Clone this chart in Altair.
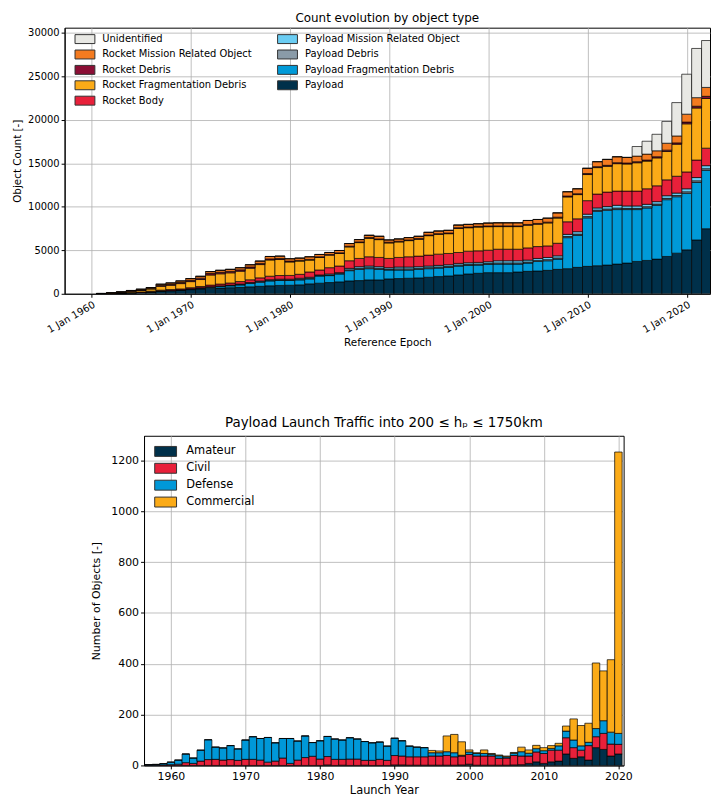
import altair as alt
import pandas as pd

FONT = "DejaVu Sans"

# ---------------- Top chart: count evolution by object type ----------------
YEARS_TOP = list(range(1961, 2023))

PAYLOAD = [20, 40, 80, 120, 160, 220, 300, 340, 400, 480, 560, 620, 660, 700, 740, 800, 860, 920, 960, 980,
           1026, 1140, 1216, 1292, 1368, 1482, 1520, 1596, 1596, 1710, 1748, 1786, 1824, 1900, 1976, 2052, 2166, 2280, 2356, 2432,
           2430, 2430, 2506, 2582, 2620, 2696, 2810, 2886, 3038, 3152, 3227, 3303, 3417, 3531, 3721, 3835, 3987, 4291, 4670, 5050, 6189, 7480]
PAYLOAD_FRAG = [0, 0, 0, 0, 0, 20, 40, 50, 60, 80, 100, 140, 180, 220, 280, 380, 480, 560, 580, 560,
                570, 570, 836, 798, 912, 1178, 1292, 1292, 1216, 1026, 988, 950, 988, 988, 988, 988, 1026, 988, 950, 950,
                987, 987, 911, 949, 1101, 1101, 1177, 3569, 3683, 5582, 6265, 6303, 6265, 6151, 5961, 6037, 6189, 6531, 6493, 6493, 6607, 6721]
PAYLOAD_DEBRIS = [0, 0, 0, 0, 0, 0, 0, 0, 0, 20, 20, 30, 30, 30, 40, 40, 50, 50, 50, 50,
                  70, 70, 40, 70, 60, 100, 120, 120, 120, 100, 130, 130, 120, 120, 120, 120, 120, 120, 120, 120,
                  130, 130, 130, 120, 120, 130, 130, 130, 140, 140, 130, 140, 170, 140, 140, 140, 140, 150, 140, 180, 190, 180]
PAYLOAD_MRO = [0, 0, 0, 0, 0, 0, 0, 0, 0, 0, 20, 30, 40, 50, 60, 70, 80, 90, 90, 90,
               120, 120, 74, 120, 92, 166, 184, 184, 184, 166, 212, 212, 184, 184, 184, 184, 184, 184, 184, 184,
               250, 250, 250, 222, 222, 250, 250, 250, 278, 278, 250, 278, 324, 278, 278, 278, 278, 306, 278, 352, 380, 352]
ROCKET_BODY = [10, 20, 30, 40, 50, 60, 80, 90, 100, 120, 140, 180, 210, 240, 280, 320, 360, 400, 420, 430,
               456, 608, 570, 722, 760, 874, 950, 1064, 1064, 1064, 1102, 1178, 1216, 1254, 1292, 1292, 1254, 1330, 1330, 1330,
               1329, 1329, 1329, 1405, 1367, 1329, 1443, 1443, 1481, 1557, 1595, 1671, 1633, 1709, 1709, 1785, 1823, 1823, 1936, 1936, 2012, 2012]
ROCKET_FRAG = [0, 0, 40, 110, 180, 250, 440, 500, 610, 700, 800, 1160, 1180, 1170, 1200, 1330, 1530, 1870, 1840, 1550,
               1516, 1364, 1440, 1440, 1440, 1592, 1820, 2124, 2048, 1782, 1782, 1858, 1934, 2238, 2276, 2276, 2770, 2694, 2732, 2700,
               2600, 2600, 2600, 2606, 2568, 2644, 2900, 2862, 2786, 3004, 3042, 2966, 3155, 3117, 3259, 3183, 3211, 3267, 3685, 5533, 5989, 5711]
ROCKET_DEBRIS = [0, 10, 20, 30, 40, 60, 100, 110, 130, 150, 160, 170, 170, 160, 150, 140, 130, 120, 110, 100,
                 80, 80, 80, 80, 80, 80, 80, 80, 80, 80, 80, 80, 80, 80, 80, 80, 80, 80, 80, 80,
                 80, 80, 80, 90, 90, 90, 100, 100, 100, 110, 110, 110, 110, 110, 120, 120, 130, 150, 150, 200, 200, 250]
ROCKET_MRO = [10, 40, 60, 80, 100, 110, 140, 160, 180, 200, 210, 220, 230, 240, 250, 260, 270, 280, 280, 270,
              266, 304, 266, 228, 266, 304, 266, 266, 304, 266, 266, 266, 266, 304, 304, 304, 304, 304, 304, 336,
              356, 356, 356, 456, 456, 456, 494, 494, 570, 608, 570, 683, 683, 645, 645, 683, 683, 797, 797, 911, 987, 1025]
UNIDENTIFIED = [0] * 54 + [1101, 1481, 1899, 2506, 3835, 4594, 5658, 5392]

TOP_SERIES = [
    ("Payload", PAYLOAD, "#00304a"),
    ("Payload Fragmentation Debris", PAYLOAD_FRAG, "#009ad8"),
    ("Payload Debris", PAYLOAD_DEBRIS, "#8a9ba8"),
    ("Payload Mission Related Object", PAYLOAD_MRO, "#6bcdf3"),
    ("Rocket Body", ROCKET_BODY, "#e8203a"),
    ("Rocket Fragmentation Debris", ROCKET_FRAG, "#fbab18"),
    ("Rocket Debris", ROCKET_DEBRIS, "#8b0e35"),
    ("Rocket Mission Related Object", ROCKET_MRO, "#f47b20"),
    ("Unidentified", UNIDENTIFIED, "#e8e8e4"),
]
# legend order (filled column by column, two columns)
TOP_LEGEND = ["Unidentified", "Rocket Mission Related Object", "Rocket Debris",
              "Rocket Fragmentation Debris", "Rocket Body",
              "Payload Mission Related Object", "Payload Debris",
              "Payload Fragmentation Debris", "Payload"]
top_colors = {n: c for n, _, c in TOP_SERIES}

rows = []
for i, (name, vals, _) in enumerate(TOP_SERIES):
    for y, v in zip(YEARS_TOP, vals):
        rows.append({"year": y, "cat": name, "value": v, "ord": i})
top_df = pd.DataFrame(rows)

TOP_XTICKS = [1960, 1970, 1980, 1990, 2000, 2010, 2020]
TOP_YTICKS = [0, 5000, 10000, 15000, 20000, 25000, 30000]

SWATCH_TOP = "M-2,-0.9H2V0.9H-2Z"
SWATCH_BOT = "M-2.2,-1H2.2V1H-2.2Z"

top = alt.Chart(top_df).transform_calculate(
    xl="datum.year - 0.5", xr="datum.year + 0.5"
).transform_stack(
    stack="value", groupby=["year"], as_=["y0", "y1"],
    sort=[alt.SortField(field="ord", order="ascending")]
).mark_bar(stroke="black", strokeWidth=0.9, strokeOpacity=0.75, clip=True).encode(
    x=alt.X("xl:Q", scale=alt.Scale(domain=[1957.3, 2022.35], nice=False, zero=False),
            axis=alt.Axis(values=TOP_XTICKS, labelExpr="'1 Jan ' + datum.value", labelAngle=-30,
                          labelAlign="right", labelBaseline="top", labelFontSize=10,
                          title="Reference Epoch", titleFontSize=10.5, titlePadding=3)),
    x2="xr:Q",
    y=alt.Y("y1:Q", scale=alt.Scale(domain=[0, 30600], nice=False),
            axis=alt.Axis(values=TOP_YTICKS, format="d", labelFontSize=10,
                          title="Object Count [-]", titleFontSize=10.5, titlePadding=5)),
    y2="y0:Q",
    color=alt.Color("cat:N",
                    scale=alt.Scale(domain=TOP_LEGEND, range=[top_colors[n] for n in TOP_LEGEND]),
                    legend=alt.Legend(title=None, orient="none", legendX=15, legendY=6, columns=2,
                                      symbolType=SWATCH_TOP, symbolSize=100,
                                      symbolStrokeColor="#333333", symbolStrokeWidth=1, symbolOpacity=1,
                                      labelFontSize=10, labelOffset=12, rowPadding=2.5, columnPadding=23,
                                      labelLimit=400, padding=0)),
).properties(
    width=650, height=268,
    title=alt.TitleParams("Count evolution by object type", fontSize=12, offset=1, dy=-2),
    view=alt.ViewBackground(stroke="black", strokeWidth=1),
)

# ---------------- Bottom chart: payload launch traffic ----------------
YEARS_BOT = list(range(1957, 2021))
AMATEUR = [0, 0, 0, 0, 0, 0, 0, 0, 0, 0, 0, 0, 0, 0, 0, 0, 0, 0, 0, 0, 0, 0, 0, 0,
           2, 0, 1, 0, 0, 1, 0, 0, 0, 2, 2, 1, 1, 1, 1, 1, 1, 1, 2, 5,
           1, 1, 1, 1, 1, 2, 3, 8, 14, 8, 14, 17, 45, 28, 34, 21, 70, 63, 37, 45]
CIVIL = [1, 1, 2, 3, 5, 11, 8, 17, 23, 24, 21, 23, 20, 24, 24, 21, 13, 17, 29, 8, 21, 31, 36, 25,
         33, 24, 23, 25, 25, 19, 20, 24, 20, 37, 35, 33, 33, 33, 36, 36, 38, 33, 35, 38,
         36, 36, 36, 27, 28, 37, 34, 29, 39, 39, 46, 43, 64, 42, 26, 57, 43, 63, 47, 38]
DEFENSE = [2, 3, 5, 10, 16, 34, 21, 43, 78, 48, 48, 55, 45, 76, 89, 85, 97, 72, 77, 98, 75, 85, 54, 72,
           79, 80, 76, 84, 79, 74, 69, 68, 56, 68, 60, 42, 38, 36, 13, 13, 15, 16, 3, 10,
           10, 10, 7, 10, 5, 9, 17, 11, 13, 11, 7, 17, 26, 30, 17, 13, 32, 50, 47, 43]
COMMERCIAL = [0] * 38 + [9, 7, 62, 72, 53, 8,
                         3, 14, 3, 3, 3, 3, 18, 13, 13, 12, 11, 10, 20, 83, 80, 75, 258, 196, 285, 1107]

BOT_SERIES = [
    ("Amateur", AMATEUR, "#00304a"),
    ("Civil", CIVIL, "#e8203a"),
    ("Defense", DEFENSE, "#0098d8"),
    ("Commercial", COMMERCIAL, "#fbab18"),
]
rows = []
for i, (name, vals, _) in enumerate(BOT_SERIES):
    for y, v in zip(YEARS_BOT, vals):
        rows.append({"year": y, "cat": name, "value": v, "ord": i})
bot_df = pd.DataFrame(rows)

bottom = alt.Chart(bot_df).transform_calculate(
    xl="datum.year - 0.5", xr="datum.year + 0.5"
).transform_stack(
    stack="value", groupby=["year"], as_=["y0", "y1"],
    sort=[alt.SortField(field="ord", order="ascending")]
).mark_bar(stroke="black", strokeWidth=1, strokeOpacity=0.7, clip=True).encode(
    x=alt.X("xl:Q", scale=alt.Scale(domain=[1956.4, 2020.7], nice=False, zero=False),
            axis=alt.Axis(values=[1960, 1970, 1980, 1990, 2000, 2010, 2020], format="d",
                          labelFontSize=11, title="Launch Year", titleFontSize=11.5, titlePadding=3)),
    x2="xr:Q",
    y=alt.Y("y1:Q", scale=alt.Scale(domain=[0, 1297], nice=False),
            axis=alt.Axis(values=[0, 200, 400, 600, 800, 1000, 1200], format="d", labelFontSize=11,
                          title="Number of Objects [-]", titleFontSize=11, titlePadding=9)),
    y2="y0:Q",
    color=alt.Color("cat:N",
                    scale=alt.Scale(domain=[n for n, _, _ in BOT_SERIES], range=[c for _, _, c in BOT_SERIES]),
                    legend=alt.Legend(title=None, orient="none", legendX=96, legendY=10,
                                      symbolType=SWATCH_BOT, symbolSize=100,
                                      symbolStrokeColor="#333333", symbolStrokeWidth=1, symbolOpacity=1,
                                      labelFontSize=11.5, labelOffset=15, rowPadding=2, padding=0)),
).properties(
    width=483, height=332,
    title=alt.TitleParams("Payload Launch Traffic into 200 \u2264 h\u209a \u2264 1750km", fontSize=13.5, offset=6),
    view=alt.ViewBackground(stroke="black", strokeWidth=1),
)

spacer = alt.Chart(pd.DataFrame({"a": [0]})).mark_point(opacity=0).encode(
    x=alt.X("a:Q", axis=None), y=alt.Y("a:Q", axis=None)
).properties(width=21, height=20, view=alt.ViewBackground(stroke="transparent"))

chart = alt.vconcat(
    top,
    alt.hconcat(spacer, bottom, spacing=4),
    spacing=68,
).resolve_scale(
    color="independent"
).resolve_legend(
    color="independent"
).properties(
    padding={"left": 4, "right": 0, "top": 0, "bottom": 0}
).configure(
    font=FONT
).configure_axis(
    labelFont=FONT, titleFont=FONT, labelColor="black", titleColor="black",
    titleFontWeight="normal", tickColor="black", domainColor="black", tickSize=3.5,
    labelPadding=2, gridColor="#b0b0b0", gridWidth=0.8, domainWidth=1,
).configure_title(
    font=FONT, fontWeight="normal", color="black", anchor="middle"
).configure_legend(
    labelFont=FONT, labelColor="black"
)

chart.save("out.html", embed_options={"renderer": "svg", "actions": False})
